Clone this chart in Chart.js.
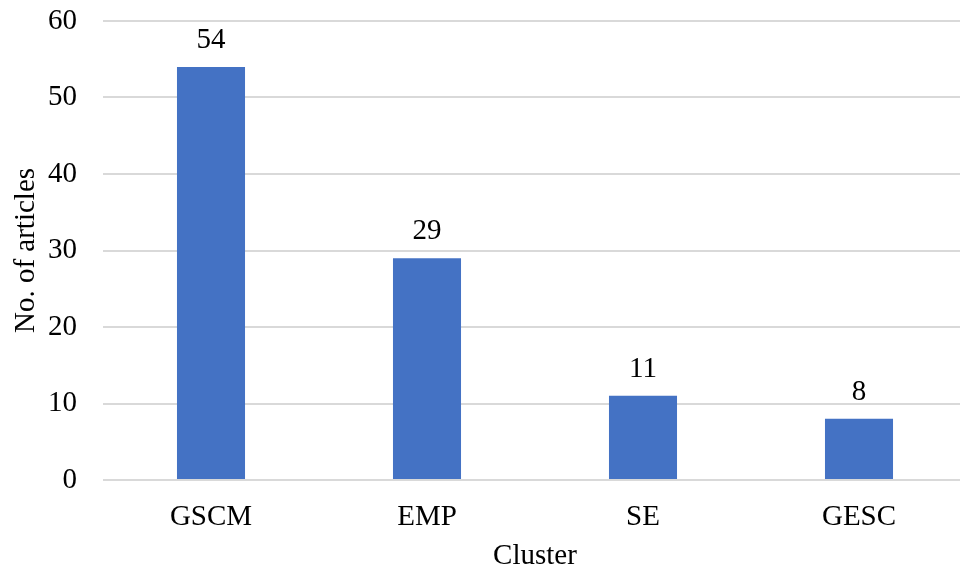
<!DOCTYPE html>
<html>
<head>
<meta charset="utf-8">
<script src="https://cdn.jsdelivr.net/npm/chart.js@4/dist/chart.umd.min.js"></script>
<style>
  html, body { margin: 0; padding: 0; background: #ffffff; overflow: hidden; }
  #wrap { width: 960px; height: 571px; overflow: hidden; }
  canvas { display: block; }
</style>
</head>
<body>
<div id="wrap"><canvas id="c" width="967" height="571"></canvas></div>
<script>
// Articles per research cluster
const clusters = ['GSCM', 'EMP', 'SE', 'GESC'];
const articleCounts = [54, 29, 11, 8];
const yTicks = [0, 10, 20, 30, 40, 50, 60];

const FONT = "'Liberation Serif', 'Times New Roman', serif";
const SIZE = 29;

// Writes each bar's value just above it
const valueLabels = {
  id: 'valueLabels',
  afterDatasetsDraw(chart) {
    const ctx = chart.ctx;
    const meta = chart.getDatasetMeta(0);
    ctx.save();
    ctx.font = SIZE + 'px ' + FONT;
    ctx.fillStyle = '#000000';
    ctx.textAlign = 'center';
    ctx.textBaseline = 'alphabetic';
    meta.data.forEach((bar, i) => {
      ctx.fillText(String(articleCounts[i]), bar.x, bar.y - 19);
    });
    ctx.restore();
  }
};

new Chart(document.getElementById('c'), {
  type: 'bar',
  data: {
    labels: clusters,
    datasets: [{
      data: articleCounts,
      backgroundColor: '#4472C4',
      borderWidth: 0,
      barPercentage: 0.63,
      categoryPercentage: 0.5
    }]
  },
  options: {
    responsive: false,
    animation: false,
    layout: { padding: { top: 21, right: 0, left: 0, bottom: 0 } },
    plugins: {
      legend: { display: false },
      tooltip: { enabled: false }
    },
    scales: {
      x: {
        grid: { display: false },
        border: { display: false },
        ticks: {
          color: '#000000',
          font: { family: FONT, size: SIZE },
          padding: 12,
          maxRotation: 0
        },
        title: {
          display: true,
          text: 'Cluster',
          color: '#000000',
          font: { family: FONT, size: SIZE },
          padding: { top: 0, bottom: -3 }
        },
        afterFit(scale) {
          scale.height = 91;
          scale.paddingLeft = 0;
          scale.paddingRight = 0;
        }
      },
      y: {
        min: 0,
        max: 60,
        afterBuildTicks(scale) { scale.ticks = yTicks.map(v => ({ value: v })); },
        grid: { color: '#d9d9d9', lineWidth: 2, drawTicks: false },
        border: { display: false },
        ticks: {
          color: '#000000',
          font: { family: FONT, size: SIZE },
          padding: 26
        },
        title: {
          display: true,
          text: 'No. of articles',
          color: '#000000',
          font: { family: FONT, size: SIZE },
          padding: { top: 9, bottom: 0 }
        },
        afterFit(scale) {
          scale.width = 103;
          scale.paddingTop = 0;
          scale.paddingBottom = 0;
        }
      }
    }
  },
  plugins: [valueLabels]
});
</script>
</body>
</html>
